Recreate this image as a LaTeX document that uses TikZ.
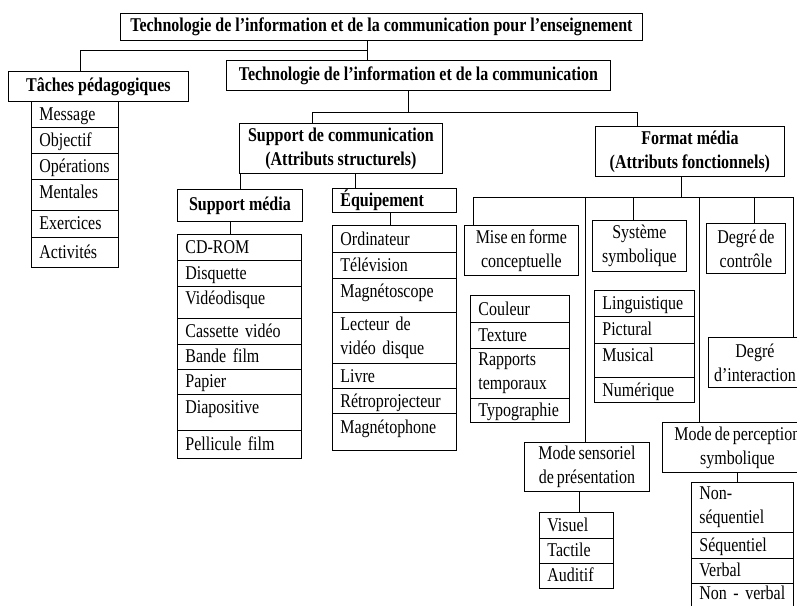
\documentclass[tikz,border=0pt]{standalone}
\usepackage{fontspec}
\setmainfont{Liberation Serif}[FakeStretch=0.82]
\newcommand{\itemfont}{\fontsize{19.5}{24}\selectfont\spaceskip=3pt\relax}
\newcommand{\hdrfont}{\fontsize{19.5}{24}\selectfont\bfseries\spaceskip=4pt\relax}
\tikzset{
  conn/.style={line width=0.8pt, draw=black},
  frame/.style={draw=black, line width=0.8pt, inner sep=0pt, anchor=north west},
}
% header box: name x1 y1 x2 y2 font text (centred)
\newcommand{\hdr}[7]{%
  \pgfmathsetmacro{\myw}{#4-#2}\pgfmathsetmacro{\myh}{#5-#3}%
  \node[frame, minimum width=\myw pt, minimum height=\myh pt, align=center, font=#6] (#1) at (#2,#3) {#7};}
% list row with given baseline: name x1 y1 x2 y2 baseline text
\newcommand{\rowb}[7]{%
  \pgfmathsetmacro{\myw}{#4-#2}\pgfmathsetmacro{\mytw}{#4-#2-16}%
  \pgfmathsetmacro{\myth}{#6-#3}\pgfmathsetmacro{\mytd}{#5-#6}%
  \node[frame, minimum width=\myw pt, inner xsep=8pt, text width=\mytw pt, align=left,
        text height=\myth pt, text depth=\mytd pt, font=\itemfont] (#1) at (#2,#3) {\mbox{#7}};}
% list row, text centred vertically (multi-line): name x1 y1 x2 y2 text
\newcommand{\rowc}[6]{%
  \pgfmathsetmacro{\myw}{#4-#2}\pgfmathsetmacro{\mytw}{#4-#2-16}\pgfmathsetmacro{\myh}{#5-#3}%
  \node[frame, minimum width=\myw pt, minimum height=\myh pt, inner xsep=8pt, text width=\mytw pt, align=left,
        font=\itemfont] (#1) at (#2,#3) {#6};}
\begin{document}
\begin{tikzpicture}[x=1pt,y=-1pt]
\useasboundingbox (0,0) rectangle (797,605);
\clip (0,0) rectangle (797,605);
\fill[white] (0,0) rectangle (797,605);

% ---- headers
\hdr{T}{120}{13}{642}{40}{\hdrfont}{Technologie de l’information et de la communication pour l’enseignement}
\hdr{TP}{8}{71}{188}{101}{\hdrfont}{Tâches pédagogiques}
\hdr{TIC}{226}{60}{610}{90}{\hdrfont}{Technologie de l’information et de la communication}
\hdr{SC}{239}{123}{442}{173}{\hdrfont}{Support de communication\\(Attributs structurels)}
\hdr{FM}{595}{126}{784}{176}{\hdrfont}{Format média\\(Attributs fonctionnels)}
\hdr{SM}{177}{189}{302}{221}{\hdrfont}{Support média}
\rowb{EQ}{332}{188}{456}{212}{206}{\bfseries Équipement}

\hdr{MF}{464}{225}{578}{275}{\itemfont}{Mise en forme\\conceptuelle}
\hdr{SY}{592}{220}{686}{271}{\itemfont}{Système\\symbolique}
\hdr{DC}{706}{223}{785}{273}{\itemfont}{Degré de\\contrôle}
\hdr{DI}{708}{337}{801}{387}{\itemfont}{Degré\\d’interaction}
\hdr{MS}{524}{442}{649}{491}{\itemfont}{Mode sensoriel\\de présentation}
\hdr{MP}{662}{422}{812}{472}{\itemfont}{Mode de perception\\symbolique}

% ---- Tâches pédagogiques list
\rowb{m1}{31}{101}{118}{127}{120}{Message}
\rowb{m2}{31}{127}{118}{153}{146}{Objectif}
\rowb{m3}{31}{153}{118}{179}{172}{Opérations}
\rowb{m4}{31}{179}{118}{210}{198}{Mentales}
\rowb{m5}{31}{210}{118}{237}{229}{Exercices}
\rowb{m6}{31}{237}{118}{267}{258}{Activités}

% ---- Support média list
\rowb{s1}{177}{234}{301}{260}{253}{CD-ROM}
\rowb{s2}{177}{260}{301}{286}{279}{Disquette}
\rowb{s3}{177}{286}{301}{318}{304}{Vidéodisque}
\rowb{s4}{177}{318}{301}{344}{337}{Cassette vidéo}
\rowb{s5}{177}{344}{301}{369}{362}{Bande film}
\rowb{s6}{177}{369}{301}{394}{387}{Papier}
\rowb{s7}{177}{394}{301}{430}{413}{Diapositive}
\rowb{s8}{177}{430}{301}{458}{450}{Pellicule film}

% ---- Équipement list
\rowb{e1}{332}{225}{456}{252}{245}{Ordinateur}
\rowb{e2}{332}{252}{456}{278}{271}{Télévision}
\rowb{e3}{332}{278}{456}{312}{297}{Magnétoscope}
\rowc{e4}{332}{312}{456}{363}{Lecteur de\\vidéo disque}
\rowb{e5}{332}{363}{456}{388}{382}{Livre}
\rowb{e6}{332}{388}{456}{413}{407}{Rétroprojecteur}
\rowb{e7}{332}{413}{456}{450}{433}{Magnétophone}

% ---- Mise en forme list
\rowb{c1}{470}{295}{569}{322}{315}{Couleur}
\rowb{c2}{470}{322}{569}{348}{341}{Texture}
\rowc{c3}{470}{348}{569}{398}{Rapports\\temporaux}
\rowb{c4}{470}{398}{569}{422}{416}{Typographie}

% ---- Système symbolique list
\rowb{l1}{594}{290}{694}{316}{309}{Linguistique}
\rowb{l2}{594}{316}{694}{343}{335}{Pictural}
\rowb{l3}{594}{343}{694}{377}{361}{Musical}
\rowb{l4}{594}{377}{694}{402}{396}{Numérique}

% ---- Mode sensoriel list
\rowb{v1}{539}{512}{613}{538}{531}{Visuel}
\rowb{v2}{539}{538}{613}{563}{556}{Tactile}
\rowb{v3}{539}{563}{613}{588}{581}{Auditif}

% ---- Mode de perception list
\rowc{n1}{691}{482}{793}{532}{Non-\\séquentiel}
\rowb{n2}{691}{532}{793}{558}{551}{Séquentiel}
\rowb{n3}{691}{558}{793}{583}{576}{Verbal}
\rowb{n4}{691}{583}{793}{612}{599}{Non - verbal}

% ---- junction coordinates
\coordinate (j1) at (367,50);
\coordinate (j2) at (80,50);
\coordinate (j3) at (408,112);
\coordinate (j4) at (312,112);
\coordinate (j5) at (637,112);
\coordinate (c240) at (240,0);
\coordinate (c355) at (355,0);
\coordinate (c230) at (230,0);
\coordinate (c390) at (390,0);
\coordinate (j7) at (681,197);
\coordinate (h1) at (473,197);
\coordinate (h2) at (793,197);
\coordinate (h3) at (585,197);
\coordinate (h4) at (633,197);
\coordinate (h5) at (699,197);
\coordinate (h6) at (754,197);
\coordinate (c579) at (579,0);
\coordinate (c737) at (737,0);

% ---- connectors
\draw[conn] (T.south -| j1) -- (j1) -- (j2) -- (TP.north -| j2);
\draw[conn] (j1) -- (TIC.north -| j1);
\draw[conn] (TIC.south -| j3) -- (j3);
\draw[conn] (SC.north -| j4) -- (j4) -- (j5) -- (FM.north -| j5);
\draw[conn] (SC.south -| c240) -- (SM.north -| c240);
\draw[conn] (SC.south -| c355) -- (EQ.north -| c355);
\draw[conn] (SM.south -| c230) -- (s1.north -| c230);
\draw[conn] (EQ.south -| c390) -- (e1.north -| c390);
\draw[conn] (FM.south -| j7) -- (j7);
\draw[conn] (MF.north -| h1) -- (h1) -- (h2) -- (DI.north -| h2);
\draw[conn] (h3) -- (MS.north -| h3);
\draw[conn] (h4) -- (SY.north -| h4);
\draw[conn] (h5) -- (MP.north -| h5);
\draw[conn] (h6) -- (DC.north -| h6);
\draw[conn] (MS.south -| c579) -- (v1.north -| c579);
\draw[conn] (MP.south -| c737) -- (n1.north -| c737);
\end{tikzpicture}
\end{document}
